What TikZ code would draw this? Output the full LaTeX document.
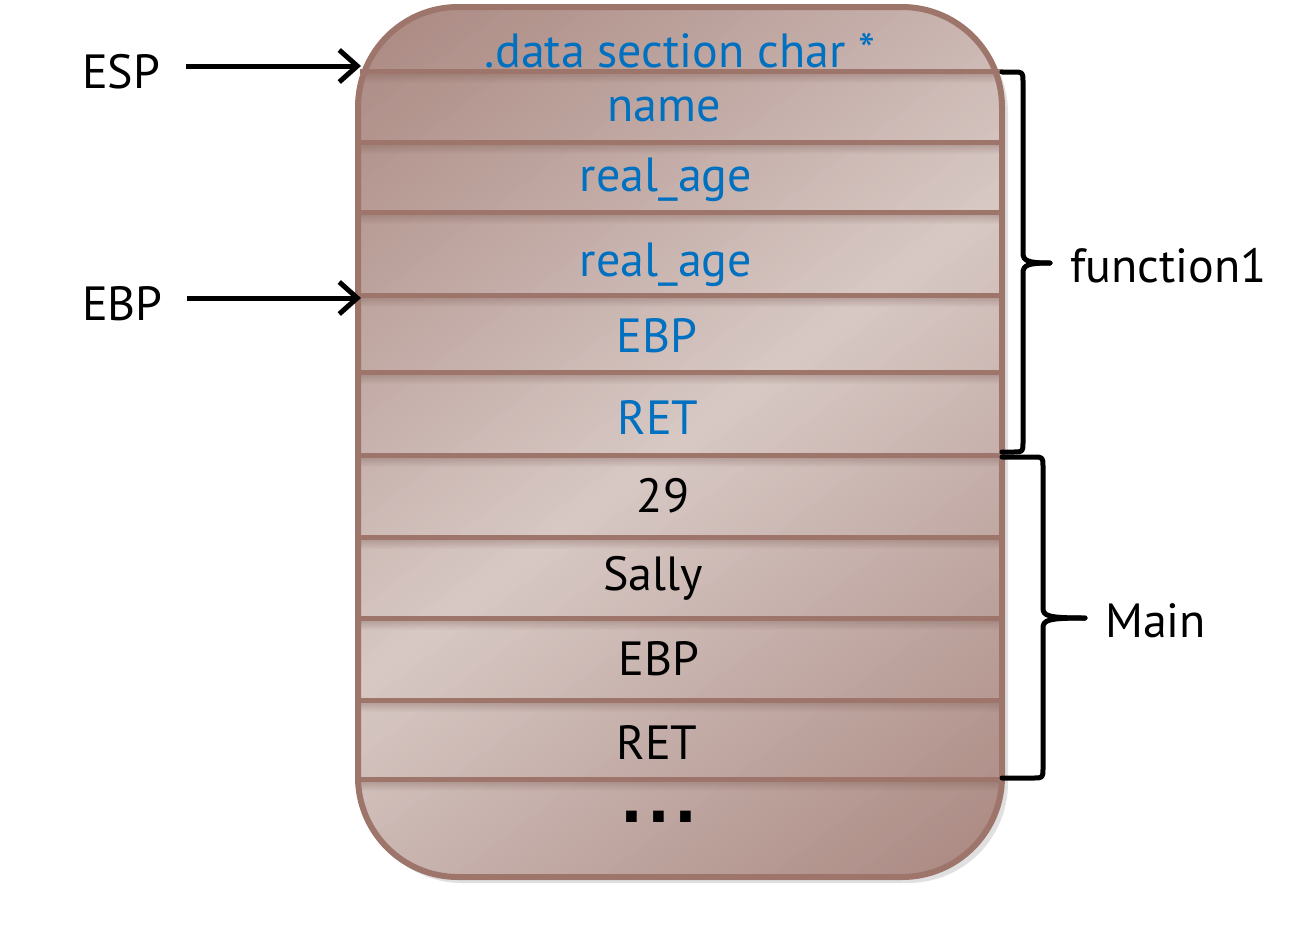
\documentclass[tikz,border=0pt]{standalone}
\usepackage{fontspec}
\setmainfont{PT Sans}
\newfontfamily\dotfont{DejaVu Sans}
\usetikzlibrary{arrows.meta,fadings}
\definecolor{boxdark}{HTML}{AA8881}
\definecolor{boxlight}{HTML}{D7C8C4}
\definecolor{boxedge}{HTML}{9E756B}
\definecolor{txtblue}{HTML}{0070C0}
\tikzfading[name=sepfade, top color=transparent!55, bottom color=transparent!100]
\tikzset{
  sepline/.style={draw=boxedge, line width=5pt},
  sepshadow/.style={fill=boxedge!80!black, path fading=sepfade},
  celltext/.style={font=\fontsize{48}{58}\selectfont, inner sep=0pt, anchor=base},
  bluetext/.style={celltext, text=txtblue},
  blacktext/.style={celltext, text=black},
  lbl/.style={font=\fontsize{48}{58}\selectfont, inner sep=0pt, anchor=base west, text=black},
  ptr/.style={line width=5pt, -{Straight Barb[length=18pt,width=32pt]}},
  bracestyle/.style={line width=5pt, line cap=round, line join=round}
}
\begin{document}
\begin{tikzpicture}[x=1pt,y=-1pt]
\useasboundingbox (0,0) rectangle (1310,948);
% shadow
\fill[black, opacity=0.12, rounded corners=100pt] (362,13) rectangle (1008,883);
% box gradient made of diagonal strips
\begin{scope}
\clip[rounded corners=100pt] (358,7) rectangle (1002,877);
\begin{scope}[shift={(680,442)}, rotate=37]
\foreach \s in {-550,-540,...,550}{
  \pgfmathtruncatemacro\pc{min(100,abs(\s+5)/5.3)}
  \fill[boxdark!\pc!boxlight] (-900,\s) rectangle (900,\s+11);
}
\end{scope}
\foreach \yy in {71,142,212,295,372,455,537,618,700,779}
  \path[sepshadow] (358,\yy) rectangle (1002,\yy+12);
\end{scope}
\draw[draw=boxedge, line width=6pt, rounded corners=100pt] (358,7) rectangle (1002,877);
\foreach \yy in {71,142,212,295,372,455,537,618,700,779}
  \draw[sepline] (360,\yy) -- (1003,\yy);
% cells
\node[bluetext] (r1) at (680,67) {.data section char *};
\node[bluetext] (r2) at (664,121) {name};
\node[bluetext] (r3) at (666,191) {real\_age};
\node[bluetext] (r4) at (666,276) {real\_age};
\node[bluetext] (r5) at (657,352) {EBP};
\node[bluetext] (r6) at (658,434) {RET};
\node[blacktext] (r7) at (663,512) {29};
\node[blacktext] (r8) at (653,590) {Sally};
\node[blacktext] (r9) at (659,675) {EBP};
\node[blacktext] (r10) at (657,759) {RET};
\node[blacktext, font=\dotfont\fontsize{60}{66}\selectfont\bfseries] (r11) at (659,822) {.\hspace{4pt}.\hspace{4pt}.};
% pointers
\node[lbl] (esp) at (82,88) {ESP};
\node[lbl] (ebp) at (82,320) {EBP};
\coordinate (espt) at (361,66);
\coordinate (ebpt) at (361,298);
\draw[ptr] ([xshift=26pt]esp.east |- espt) -- (espt);
\draw[ptr] ([xshift=24pt]ebp.east |- ebpt) -- (ebpt);
% braces
\coordinate (f1tip) at (1050,263);
\coordinate (mtip) at (1085,618);
\draw[bracestyle] (1002,72) -- (1013,72) .. controls (1023,72) .. (1023,82) -- (1023,253)
  .. controls (1023,261) and (1028,263) .. (f1tip);
\draw[bracestyle] (f1tip) .. controls (1028,263) and (1023,265) .. (1023,273) -- (1023,442)
  .. controls (1023,452) .. (1013,452) -- (1002,452);
\draw[bracestyle] (1002,457) -- (1033,457) .. controls (1043,457) .. (1043,467) -- (1043,608)
  .. controls (1043,616) and (1048,618) .. (mtip);
\draw[bracestyle] (mtip) .. controls (1048,618) and (1043,620) .. (1043,628) -- (1043,768)
  .. controls (1043,778) .. (1033,778) -- (1002,778);
\node[lbl] (f1) at (1070,282) {function1};
\node[lbl] (mainl) at (1105,637) {Main};
\end{tikzpicture}
\end{document}
